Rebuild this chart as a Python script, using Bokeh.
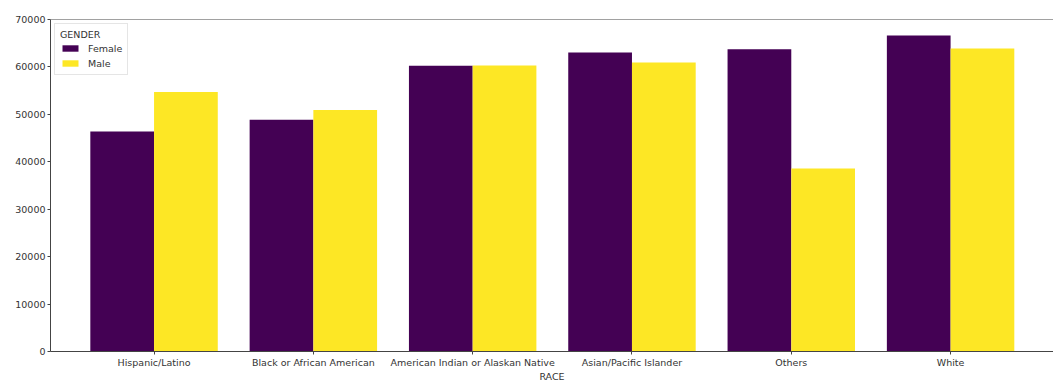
from bokeh.plotting import figure
from bokeh.models import (ColumnDataSource, Range1d, FixedTicker, Legend, LegendItem,
                          NumeralTickFormatter, Span)
from bokeh.transform import dodge
from bokeh.embed import file_html
from bokeh.resources import INLINE

# ---- data ----
races = ["Hispanic/Latino", "Black or African American", "American Indian or Alaskan Native",
         "Asian/Pacific Islander", "Others", "White"]
female = [46400, 48850, 60250, 63050, 63750, 66650]
male = [54700, 50900, 60300, 60950, 38600, 63900]
y_ticks = [0, 10000, 20000, 30000, 40000, 50000, 60000, 70000]
colors = {"Female": "#440154", "Male": "#FDE725"}

pos = list(range(len(races)))
src = ColumnDataSource(dict(pos=pos, race=races, female=female, male=male))

p = figure(width=1053, height=384, output_backend="svg", toolbar_location=None,
           x_range=Range1d(-0.65, 5.646), y_range=Range1d(0, 70000),
           min_border_left=50, min_border_right=0, min_border_top=19, min_border_bottom=33)

r_f = p.vbar(x=dodge("pos", -0.2), top="female", width=0.4, source=src,
             fill_color=colors["Female"], line_color=None)
r_m = p.vbar(x=dodge("pos", 0.2), top="male", width=0.4, source=src,
             fill_color=colors["Male"], line_color=None)

p.xgrid.visible = False
p.ygrid.visible = False
p.outline_line_color = None
p.background_fill_color = "white"
p.border_fill_color = "white"
p.add_layout(Span(location=70000, dimension="width", line_color="#444", line_width=1))

axis_col = "#444"
text_col = "#333"
for ax in (p.xaxis[0], p.yaxis[0]):
    ax.axis_line_color = axis_col
    ax.major_tick_line_color = axis_col
    ax.major_tick_out = 3
    ax.major_tick_in = 0
    ax.minor_tick_line_color = None
    ax.major_label_text_font = "DejaVu Sans"
    ax.major_label_text_font_size = "9.5px"
    ax.major_label_text_color = text_col
    ax.major_label_standoff = 2

p.xaxis.ticker = FixedTicker(ticks=pos)
p.xaxis.major_label_overrides = {i: r for i, r in zip(pos, races)}
p.xaxis.axis_label = "RACE"
p.xaxis.axis_label_text_font = "DejaVu Sans"
p.xaxis.axis_label_text_font_size = "9.5px"
p.xaxis.axis_label_text_font_style = "normal"
p.xaxis.axis_label_text_color = text_col
p.xaxis.axis_label_standoff = 0

p.yaxis.ticker = FixedTicker(ticks=y_ticks)
p.yaxis.formatter = NumeralTickFormatter(format="0")

legend = Legend(items=[LegendItem(label="Female", renderers=[r_f]),
                       LegendItem(label="Male", renderers=[r_m])],
                location="top_left", title="GENDER")
legend.title_text_font = "DejaVu Sans"
legend.title_text_font_size = "9.5px"
legend.title_text_font_style = "normal"
legend.title_text_color = text_col
legend.title_standoff = 2
legend.label_text_font = "DejaVu Sans"
legend.label_text_font_size = "9.5px"
legend.label_text_color = text_col
legend.label_height = 12
legend.label_standoff = 8
legend.glyph_width = 20
legend.glyph_height = 8
legend.spacing = 3
legend.padding = 5
legend.margin = 4
legend.border_line_color = "#cccccc"
legend.border_line_width = 1
legend.background_fill_alpha = 0.8
p.add_layout(legend)

open("out.html", "w").write(file_html(p, INLINE))
